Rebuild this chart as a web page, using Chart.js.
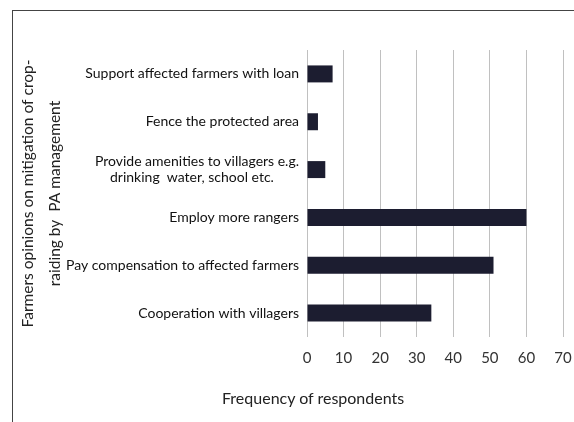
<!DOCTYPE html>
<html lang="en">
<head>
  <meta charset="UTF-8" />
  <title>Farmers opinions on mitigation of crop-raiding</title>
  <script src="https://cdn.jsdelivr.net/npm/chart.js"></script>
  <style>
    body { margin: 0; padding: 0; background: #fff; }
    .wrap { position: relative; width: 574px; height: 422px; overflow: hidden; }
    .frame {
      position: absolute; left: 12px; top: 10px;
      width: 700px; height: 600px;
      border: 1.5px solid #444;
      box-sizing: border-box;
    }
    canvas { position: absolute; left: 0; top: 0; }
    .x-title {
      position: absolute; left: 222px; top: 388px;
      font: 16px Lato, "Open Sans", sans-serif;
      color: #222;
      white-space: nowrap;
    }
  </style>
</head>
<body>
  <div class="wrap">
    <div class="frame"></div>
    <canvas id="chart" width="574" height="422"></canvas>
    <div class="x-title">Frequency of respondents</div>
  </div>

  <script>
    const categories = [
      'Support affected farmers with loan',
      'Fence the protected area',
      ['Provide amenities to villagers e.g.', 'drinking  water, school etc.       '],
      'Employ more rangers',
      'Pay compensation to affected farmers',
      'Cooperation with villagers'
    ];
    const respondents = [7, 3, 5, 60, 51, 34];
    const xTicks = [0, 10, 20, 30, 40, 50, 60, 70];

    const font = 'Lato, "Open Sans", sans-serif';

    new Chart(document.getElementById('chart'), {
      type: 'bar',
      data: {
        labels: categories,
        datasets: [{
          data: respondents,
          backgroundColor: '#1c1d30',
          barPercentage: 0.355,
          categoryPercentage: 1
        }]
      },
      options: {
        indexAxis: 'y',
        responsive: false,
        animation: false,
        layout: { autoPadding: false, padding: { top: 50, right: 11, bottom: 55, left: 12 } },
        plugins: { legend: { display: false }, tooltip: { enabled: false } },
        scales: {
          x: {
            min: 0,
            max: 70,
            afterBuildTicks: s => { s.ticks = xTicks.map(v => ({ value: v })); },
            afterFit: s => { s.height = 30; s.paddingLeft = 0; s.paddingRight = 0; },
            grid: { color: '#c0c0c0', lineWidth: 1, drawTicks: false },
            border: { display: false },
            ticks: { padding: 12, color: '#333', font: { family: font, size: 15 } }
          },
          y: {
            afterFit: s => { s.width = 307 - 12; },
            grid: { display: false, drawTicks: false },
            border: { display: false },
            ticks: { padding: 8, color: '#111', font: { family: font, size: 14 } },
            title: {
              display: true,
              text: ['Farmers opinions on mitigation of crop-', 'raiding by  PA management'],
              color: '#222',
              padding: { top: 2, bottom: 0 },
              font: { family: font, size: 15.5, lineHeight: 1.75 }
            }
          }
        }
      }
    });
  </script>
</body>
</html>
